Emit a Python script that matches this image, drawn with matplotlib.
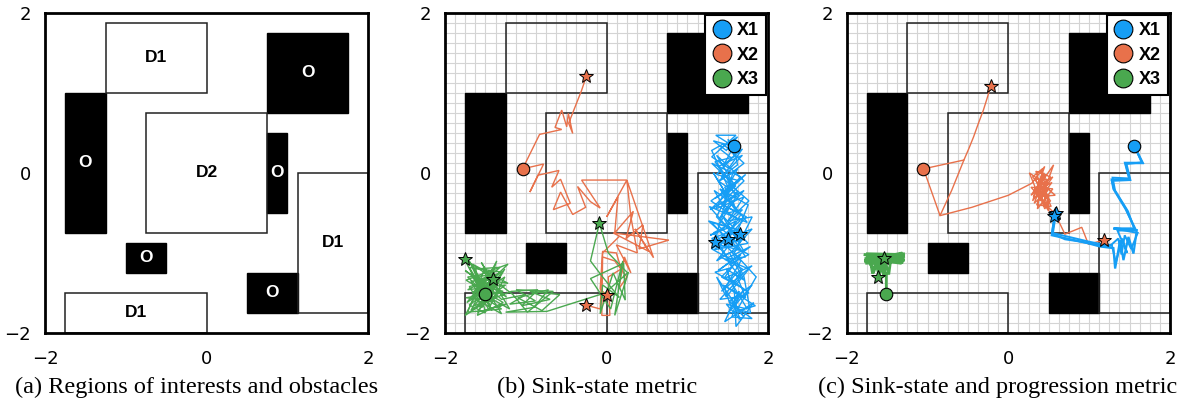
import matplotlib
matplotlib.use("Agg")
import matplotlib.pyplot as plt
from matplotlib.patches import Rectangle
from matplotlib.lines import Line2D
import numpy as np

# ---------------- data ----------------
# regions (x, y, width, height)
obstacles = [(0.75, 0.75, 1.0, 1.0), (-1.75, -0.75, 0.5, 1.75), (0.75, -0.5, 0.25, 1.0),
             (-1.0, -1.25, 0.5, 0.375), (0.5, -1.75, 0.625, 0.5)]
d1_regions = [(-1.25, 1.0, 1.25, 0.875), (1.125, -1.75, 0.875, 1.75), (-1.75, -2.0, 1.75, 0.5)]
d2_regions = [(-0.75, -0.75, 1.5, 1.5)]
region_labels = ["O", "O", "O", "O", "O", "D1", "D1", "D1", "D2"]

ticks = [-2, 0, 2]
captions = ["(a) Regions of interests and obstacles", "(b) Sink-state metric",
            "(c) Sink-state and progression metric"]
series_names = ["X1", "X2", "X3"]
colors = ["#169ef5", "#e8714b", "#4aa84f"]

# panel (b) trajectories
b_x1_a = [(1.57, 0.33), (1.35, 0.47), (1.60, 0.47), (1.30, 0.20), (1.52, 0.05), (1.68, 0.22), (1.38, 0.08),
          (1.55, -0.12), (1.30, 0.12), (1.66, -0.05), (1.45, -0.28), (1.72, -0.02), (1.34, -0.32), (1.60, -0.16),
          (1.28, -0.46), (1.70, -0.22), (1.40, -0.56), (1.54, -0.36), (1.74, -0.62), (1.27, -0.42), (1.58, -0.78),
          (1.42, -0.52), (1.75, -0.88), (1.33, -0.96), (1.62, -0.70), (1.30, -0.82), (1.50, -1.06), (1.78, -0.92),
          (1.38, -1.22), (1.66, -1.02), (1.45, -1.32), (1.80, -1.16), (1.42, -1.48), (1.60, -1.26), (1.72, -1.56),
          (1.44, -1.40), (1.84, -1.66), (1.50, -1.76), (1.64, -1.48), (1.46, -1.86), (1.82, -1.62), (1.60, -1.92),
          (1.58, -1.46), (1.48, -1.20), (1.70, -1.34), (1.52, -1.00), (1.36, -1.10), (1.66, -0.72), (1.30, -0.62),
          (1.55, -0.90), (1.75, -0.40), (1.40, -0.20), (1.62, -0.50), (1.32, 0.00), (1.50, -0.30), (1.70, -0.10),
          (1.36, 0.22), (1.58, -0.15), (1.29, -0.35), (1.65, -0.60), (1.42, -0.80), (1.34, -0.86)]
b_x1_b = [(1.57, 0.33), (1.45, 0.10), (1.68, 0.30), (1.40, -0.10), (1.62, 0.05), (1.35, -0.45), (1.70, -0.30),
          (1.46, -0.66), (1.26, -0.60), (1.64, -0.95), (1.40, -1.05), (1.76, -1.20), (1.48, -1.55), (1.36, -1.30),
          (1.70, -1.80), (1.52, -1.60), (1.80, -1.40), (1.55, -1.70), (1.46, -1.45), (1.66, -1.10), (1.32, -0.75),
          (1.60, -0.60), (1.38, -0.95), (1.72, -0.80), (1.50, -0.83)]
b_x1_c = [(1.57, 0.33), (1.62, 0.10), (1.42, -0.05), (1.76, -0.35), (1.50, -0.60), (1.80, -0.55), (1.58, -1.00),
          (1.85, -1.30), (1.62, -1.70), (1.78, -1.75), (1.70, -1.30), (1.55, -0.98), (1.80, -0.70), (1.65, -0.76)]
b_x1_d = [(1.57, 0.33), (1.32, 0.40), (1.48, 0.28), (1.62, 0.45), (1.40, 0.30), (1.55, 0.18), (1.36, -0.02),
          (1.64, -0.10), (1.46, -0.18), (1.58, -0.40), (1.33, -0.22), (1.50, -0.50), (1.68, -0.46), (1.44, -0.70),
          (1.28, -0.78), (1.52, -0.68), (1.70, -0.98), (1.40, -0.90), (1.56, -1.18), (1.34, -1.24), (1.62, -1.40),
          (1.50, -1.30), (1.76, -1.50), (1.54, -1.58), (1.66, -1.84), (1.48, -1.64), (1.74, -1.70), (1.56, -1.40),
          (1.68, -1.20), (1.46, -1.08), (1.72, -1.05), (1.58, -0.84), (1.38, -0.66), (1.60, -0.30), (1.48, -0.05),
          (1.70, 0.12), (1.44, 0.36), (1.30, 0.28), (1.52, -0.22), (1.36, -0.55), (1.66, -0.86), (1.50, -0.83)]
b_x1_e = [(1.57, 0.33), (1.50, 0.42), (1.58, 0.20), (1.34, 0.14), (1.62, -0.24), (1.44, -0.40), (1.73, -0.55),
          (1.52, -0.78), (1.30, -0.95), (1.60, -1.12), (1.42, -1.30), (1.70, -1.45), (1.58, -1.66), (1.80, -1.82),
          (1.55, -1.80), (1.62, -1.55), (1.40, -1.58), (1.66, -1.30), (1.52, -1.14), (1.76, -1.02), (1.46, -0.86),
          (1.66, -0.52), (1.40, -0.38), (1.64, -0.28), (1.38, -0.10), (1.56, 0.00), (1.34, -0.86)]
b_x1_stars = [(1.34, -0.86), (1.50, -0.83), (1.65, -0.76)]

b_x2_a = [(-1.04, 0.05), (-0.83, 0.48), (-0.556, 0.542), (-0.639, 0.567), (-0.556, 0.784), (-0.494, 0.575),
          (-0.474, 0.742), (-0.42, 0.492), (-0.47, 0.62), (-0.31, 1.03), (-0.25, 1.21)]
b_x2_b = [(-1.04, 0.05), (-0.78, 0.11), (-0.95, -0.24), (-0.85, -0.03), (-0.59, 0.03), (-0.68, -0.18),
          (-0.57, -0.08), (-0.45, -0.38), (-0.66, -0.46), (-0.57, -0.24), (-0.42, -0.52), (-0.26, -0.43),
          (-0.36, -0.17), (-0.20, -0.36), (-0.08, -0.44), (-0.31, -0.09), (0.25, -0.09), (0.00, -0.55),
          (0.14, -0.30), (0.10, -0.75), (0.33, -0.48), (0.24, -0.82), (0.45, -0.65), (0.40, -0.95), (0.77, -0.84),
          (0.08, -0.75), (0.52, -0.98), (0.35, -0.70), (0.58, -1.06), (0.25, -0.09), (0.30, -0.55), (0.38, -1.00),
          (0.12, -0.90), (0.30, -1.25), (0.22, -1.05), (0.15, -1.45), (0.25, -1.30), (0.10, -1.10), (-0.05, -1.05),
          (-0.06, -1.78), (0.04, -1.78), (0.02, -1.30), (0.18, -1.20), (0.12, -1.00), (-0.05, -0.98),
          (-0.08, -1.45), (0.00, -1.53)]
b_x2_c = [(0.15, -0.80), (-0.05, -1.00), (-0.08, -1.70), (-0.26, -1.65)]
b_x2_stars = [(-0.25, 1.21), (-0.26, -1.65), (0.00, -1.53)]

b_x3_a = [(-1.50, -1.52), (-1.70, -1.18), (-1.30, -1.24), (-1.72, -1.46), (-1.25, -1.40), (-1.68, -1.72),
          (-1.36, -1.10), (-1.60, -1.78), (-1.28, -1.62), (-1.74, -1.34), (-1.22, -1.14), (-1.65, -1.56),
          (-1.30, -1.76), (-1.70, -1.10), (-1.44, -1.66), (-1.26, -1.30), (-1.73, -1.62), (-1.40, -1.20),
          (-1.62, -1.46), (-1.20, -1.70), (-1.55, -1.12), (-1.33, -1.50), (-1.75, -1.78), (-1.50, -1.30),
          (-1.24, -1.55), (-1.68, -1.26), (-1.42, -1.72), (-1.76, -1.08), (-1.34, -1.36), (-1.58, -1.64),
          (-1.18, -1.48), (-0.85, -1.46), (-1.05, -1.66), (-0.70, -1.58), (-0.95, -1.48), (-0.58, -1.52),
          (-0.80, -1.72), (-1.10, -1.56), (-0.72, -1.46), (-0.90, -1.68), (-1.25, -1.74), (-0.74, -1.73),
          (-0.02, -1.50), (0.27, -1.24), (0.10, -1.78), (0.20, -1.10), (0.05, -1.70), (-0.20, -1.32),
          (0.21, -1.13), (0.23, -1.59), (0.08, -1.25), (-0.08, -1.76), (-0.05, -1.40), (0.15, -1.55)]
b_x3_b = [(0.15, -1.55), (-0.05, -1.30), (-0.20, -1.10), (-0.09, -0.63), (0.02, -1.00), (0.26, -1.25)]
b_x3_c = [(-1.50, -1.52), (-1.72, -1.30), (-1.45, -1.28), (-1.66, -1.50), (-1.38, -1.42), (-1.70, -1.65),
          (-1.50, -1.75), (-1.62, -1.20), (-1.32, -1.18), (-1.56, -1.40), (-1.28, -1.48), (-1.74, -1.56),
          (-1.40, -1.60), (-1.60, -1.32), (-1.22, -1.38), (-1.66, -1.14), (-1.48, -1.58), (-1.30, -1.70),
          (-1.72, -1.74), (-1.52, -1.22), (-1.36, -1.56), (-1.64, -1.66), (-1.26, -1.20), (-1.54, -1.68),
          (-1.70, -1.42), (-1.42, -1.36), (-1.58, -1.54), (-1.34, -1.26), (-1.68, -1.36), (-1.46, -1.70),
          (-1.24, -1.64), (-1.60, -1.74), (-1.40, -1.48), (-1.75, -1.22), (-1.48, -1.42), (-1.30, -1.58),
          (-1.00, -1.52), (-1.20, -1.64), (-0.88, -1.60), (-1.12, -1.46), (-0.66, -1.48), (-0.98, -1.74),
          (-1.16, -1.52), (-1.42, -1.32)]
b_x3_stars = [(-1.75, -1.08), (-1.40, -1.32), (-0.09, -0.63)]

# panel (c) trajectories
c_x1_a = [(1.559, 0.334), (1.663, 0.125), (1.444, 0.125), (1.498, -0.083), (1.279, -0.083), (1.30, -0.20),
          (1.45, -0.45), (1.568, -0.695), (1.30, -0.695), (1.589, -0.716), (1.548, -1.008), (1.486, -0.80),
          (1.424, -1.09), (1.383, -0.84), (1.321, -1.195), (1.30, -0.94), (1.135, -0.92), (0.97, -0.875),
          (0.723, -0.82), (0.537, -0.779), (0.578, -0.52)]
c_x1_b = [(1.559, 0.334), (1.65, 0.13), (1.45, 0.11), (1.50, -0.07), (1.29, -0.06), (1.32, -0.22), (1.48, -0.48),
          (1.56, -0.70), (1.33, -0.70), (1.60, -0.75), (1.52, -0.95), (1.44, -0.78), (1.40, -1.02), (1.36, -0.82),
          (1.25, -0.92), (1.10, -0.90), (0.90, -0.86), (0.70, -0.83), (0.55, -0.76), (0.59, -0.50)]
c_x1_c = [(1.559, 0.334), (1.66, 0.12), (1.46, 0.12), (1.51, -0.09), (1.28, -0.10), (1.31, -0.21), (1.46, -0.46),
          (1.57, -0.72), (1.35, -0.72), (1.47, -1.00), (1.41, -0.82), (1.33, -1.12), (1.28, -0.90), (1.20, -0.90),
          (1.00, -0.86), (0.75, -0.80), (0.54, -0.75), (0.57, -0.54)]
c_x1_stars = [(0.578, -0.52), (0.59, -0.50), (0.57, -0.54)]

c_x2_a = [(-1.05, 0.05), (-0.55, 0.16), (-0.49, 0.30), (-0.43, 0.45), (-0.37, 0.62), (-0.31, 0.78),
          (-0.26, 0.94), (-0.22, 1.08)]
c_x2_b = [(-1.05, 0.05), (-0.845, -0.534), (-0.70, -0.216), (-0.55, 0.16)]
c_x2_c = [(-0.845, -0.534), (-0.45, -0.43), (0.00, -0.28), (0.29, -0.13), (0.45, 0.08), (0.30, -0.35),
          (0.52, -0.05), (0.34, 0.02), (0.48, -0.40), (0.28, -0.18), (0.55, -0.20), (0.36, -0.45), (0.42, 0.05),
          (0.30, -0.05), (0.50, -0.30), (0.32, -0.25), (0.56, 0.10), (0.40, -0.35), (0.26, 0.00), (0.47, -0.15),
          (0.35, -0.40), (0.53, -0.42), (0.38, -0.10), (0.58, -0.28), (0.31, -0.30), (0.44, 0.00), (0.50, -0.48),
          (0.33, -0.20), (0.55, -0.05), (0.39, -0.28), (0.45, -0.45), (0.52, -0.35), (0.36, -0.12),
          (0.49, -0.22), (0.32, -0.38), (0.46, -0.02), (0.28, -0.28), (0.42, -0.18), (0.54, -0.12),
          (0.38, -0.32), (0.48, -0.08), (0.34, -0.08), (0.44, -0.38), (0.578, -0.508),
          (0.70, -0.766), (0.908, -0.68), (0.99, -0.89), (1.188, -0.84)]
c_x2_stars = [(-0.22, 1.08), (1.188, -0.84)]

c_x3_a = [(-1.51, -1.51), (-1.51, -1.26), (-1.74, -1.03), (-1.29, -1.04), (-1.78, -1.10), (-1.28, -1.01),
          (-1.76, -1.06), (-1.30, -1.12), (-1.79, -1.02), (-1.29, -1.08), (-1.77, -1.13), (-1.28, -1.04),
          (-1.75, -1.09), (-1.31, -1.00), (-1.70, -1.14), (-1.68, -1.26), (-1.64, -1.12), (-1.60, -1.28),
          (-1.57, -1.12), (-1.54, -1.30), (-1.52, -1.12), (-1.48, -1.27), (-1.46, -1.12), (-1.74, -1.05),
          (-1.29, -1.06), (-1.78, -1.11), (-1.30, -1.02), (-1.76, -1.01), (-1.32, -1.13), (-1.78, -1.07),
          (-1.28, -1.09), (-1.72, -1.12), (-1.66, -1.22), (-1.62, -1.10), (-1.58, -1.24), (-1.54, -1.06)]
c_x3_stars = [(-1.54, -1.06), (-1.61, -1.30)]

# ---------------- figure ----------------
W, H = 1185, 403
fig = plt.figure(figsize=(W / 100, H / 100), dpi=100)
ax_lefts = [45, 445, 846.7]
ax_w, ax_h, ax_bottom = 323.3, 320.3, 70
caption_cx = [196.5, 596.7, 998]

axes = []
for i, l in enumerate(ax_lefts):
    ax = fig.add_axes([l / W, ax_bottom / H, ax_w / W, ax_h / H])
    ax.set_xlim(-2, 2)
    ax.set_ylim(-2, 2)
    ax.set_xticks(ticks)
    ax.set_yticks(ticks)
    ax.set_xticklabels(["\u22122", "0", "2"])
    ax.set_yticklabels(["\u22122", "0", "2"])
    ax.tick_params(which="both", length=0, labelsize=13)
    ax.tick_params(axis="x", pad=12)
    ax.tick_params(axis="y", pad=10)
    for s in ax.spines.values():
        s.set_linewidth(2.0)
        s.set_zorder(10)
    axes.append(ax)
    fig.text(caption_cx[i] / W, 1 - 387 / H, captions[i], ha="center", va="center",
             family="Liberation Serif", fontsize=17.5)

ax_a, ax_b, ax_c = axes

def draw_regions(ax, with_labels):
    for r in obstacles:
        ax.add_patch(Rectangle((r[0], r[1]), r[2], r[3], facecolor="black", edgecolor="black",
                               lw=1.0, zorder=2))
    for r in d1_regions + d2_regions:
        ax.add_patch(Rectangle((r[0], r[1]), r[2], r[3], facecolor="none", edgecolor="#222222",
                               lw=1.1, zorder=2))
    if with_labels:
        allr = obstacles + d1_regions + d2_regions
        for r, lab in zip(allr, region_labels):
            col = "white" if lab == "O" else "black"
            ax.text(r[0] + r[2] / 2, r[1] + r[3] / 2, lab, ha="center", va="center",
                    color=col, fontweight="bold", family="Liberation Sans", fontsize=12.5, zorder=3)

draw_regions(ax_a, True)

grid_pos = np.arange(-2, 2.001, 0.125)
for ax in (ax_b, ax_c):
    ax.set_xticks(grid_pos, minor=True)
    ax.set_yticks(grid_pos, minor=True)
    ax.grid(which="both", color="#d4d4d4", lw=0.8)
    ax.set_axisbelow(True)
    draw_regions(ax, False)

def path(ax, pts, color, lw=1.0, z=4):
    xs = [p[0] for p in pts]
    ys = [p[1] for p in pts]
    ax.plot(xs, ys, color=color, lw=lw, zorder=z, solid_joinstyle="miter")

def stars(ax, pts, color):
    for p in pts:
        ax.plot(p[0], p[1], marker="*", ms=10.5, mfc=color, mec="black", mew=0.7, ls="none", zorder=7)

def start(ax, p, color):
    ax.plot(p[0], p[1], marker="o", ms=9, mfc=color, mec="black", mew=0.8, ls="none", zorder=6)

# panel b
for pts in (b_x2_a, b_x2_b, b_x2_c):
    path(ax_b, pts, colors[1])
for pts in (b_x1_a, b_x1_b, b_x1_c, b_x1_d, b_x1_e):
    path(ax_b, pts, colors[0])
for pts in (b_x3_a, b_x3_b, b_x3_c):
    path(ax_b, pts, colors[2], z=5)
start(ax_b, (1.57, 0.335), colors[0])
start(ax_b, (-1.04, 0.05), colors[1])
start(ax_b, (-1.50, -1.51), colors[2])
stars(ax_b, b_x1_stars, colors[0])
stars(ax_b, b_x2_stars, colors[1])
stars(ax_b, b_x3_stars, colors[2])

# panel c
for pts in (c_x2_a, c_x2_b, c_x2_c):
    path(ax_c, pts, colors[1])
path(ax_c, c_x1_a, colors[0], lw=1.6)
path(ax_c, c_x1_b, colors[0], lw=1.4)
path(ax_c, c_x1_c, colors[0], lw=1.4)
path(ax_c, c_x3_a, colors[2], lw=2.0)
start(ax_c, (1.559, 0.334), colors[0])
start(ax_c, (-1.05, 0.05), colors[1])
start(ax_c, (-1.51, -1.51), colors[2])
stars(ax_c, c_x1_stars, colors[0])
stars(ax_c, c_x2_stars, colors[1])
stars(ax_c, c_x3_stars, colors[2])

# legends
for ax in (ax_b, ax_c):
    handles = [Line2D([], [], marker="o", ls="none", ms=13.5, mfc=c, mec="black", mew=0.8)
               for c in colors]
    leg = ax.legend(handles, series_names, loc="upper right", borderaxespad=0.12, fancybox=False,
                    framealpha=1, edgecolor="black", handlelength=1.0, handletextpad=0.35,
                    labelspacing=0.42, borderpad=0.4,
                    prop={"family": "Liberation Sans", "weight": "bold", "size": 13})
    leg.get_frame().set_linewidth(1.5)
    leg.set_zorder(20)

fig.savefig("out.png", dpi=100)
